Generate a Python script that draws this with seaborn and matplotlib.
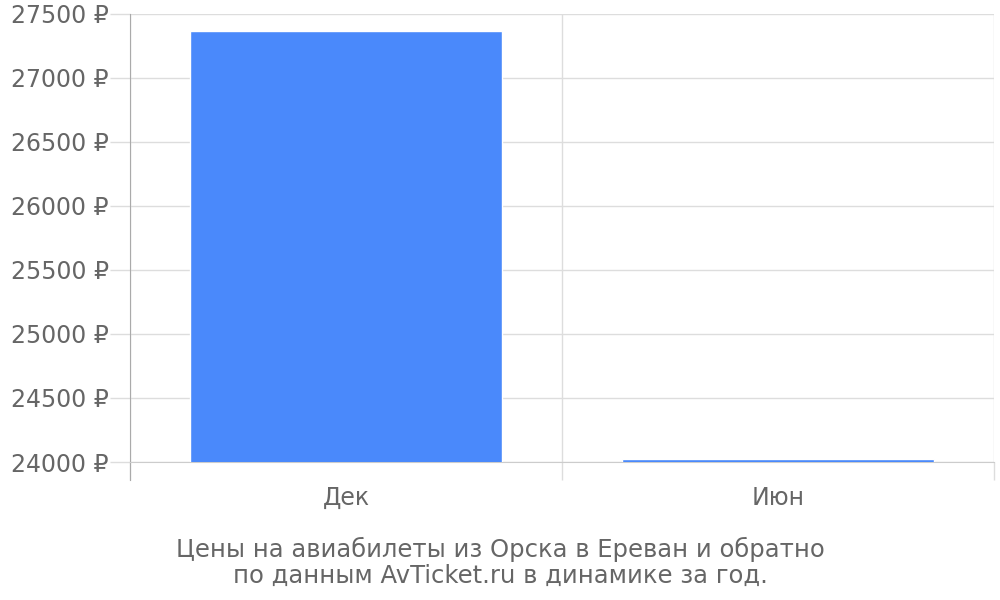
import matplotlib
matplotlib.use("Agg")
import matplotlib.pyplot as plt
import seaborn as sns
import pandas as pd
from matplotlib.ticker import FixedLocator, FuncFormatter

months = ["Дек", "Июн"]
prices = [27365, 24025]
title = "Цены на авиабилеты из Орска в Ереван и обратно\nпо данным AvTicket.ru в динамике за год."

sns.set_style("white")
plt.rcParams["font.family"] = ["DejaVu Sans"]

df = pd.DataFrame({"month": months, "price": prices})

fig = plt.figure(figsize=(10, 6), dpi=100)
ax = fig.add_axes([0.13, 0.23, 0.864, 0.747])

sns.barplot(data=df, x="month", y="price", color="#4a89fb", width=0.72,
            saturation=1, ax=ax, zorder=3)

ax.set_ylim(24000, 27500)
ax.set_xlim(-0.5, len(months) - 0.5)
ax.set_yticks(range(24000, 27501, 500))
ax.yaxis.set_major_formatter(FuncFormatter(lambda v, p: f"{int(v)} ₽"))

# vertical grid lines at category boundaries (tick lengths in points: px * 0.72)
ax.xaxis.set_minor_locator(FixedLocator([i - 0.5 for i in range(len(months) + 1)]))
ax.tick_params(axis="x", which="minor", bottom=True, length=13, color="#dddddd", width=1)
ax.tick_params(axis="x", which="major", bottom=False, length=0, labelsize=17,
               labelcolor="#666666", pad=17)
ax.tick_params(axis="y", which="major", left=True, length=14.4, color="#dddddd", width=1,
               labelsize=17, labelcolor="#666666", pad=1)
ax.grid(axis="y", which="major", color="#dddddd", linewidth=1, zorder=0)
ax.grid(axis="x", which="minor", color="#dddddd", linewidth=1, zorder=0)

for s in ["top", "right"]:
    ax.spines[s].set_visible(False)
ax.spines["left"].set_color("#aaaaaa")
ax.spines["left"].set_bounds(24000 - 3500 * 18 / 448, 27500)
ax.spines["bottom"].set_color("#cccccc")
ax.set_xlabel("")
ax.set_ylabel("")

fig.text(0.5, 0.02, title, ha="center", va="bottom", fontsize=17.5, color="#666666",
         linespacing=1.12)

fig.savefig("out.png", dpi=100)
